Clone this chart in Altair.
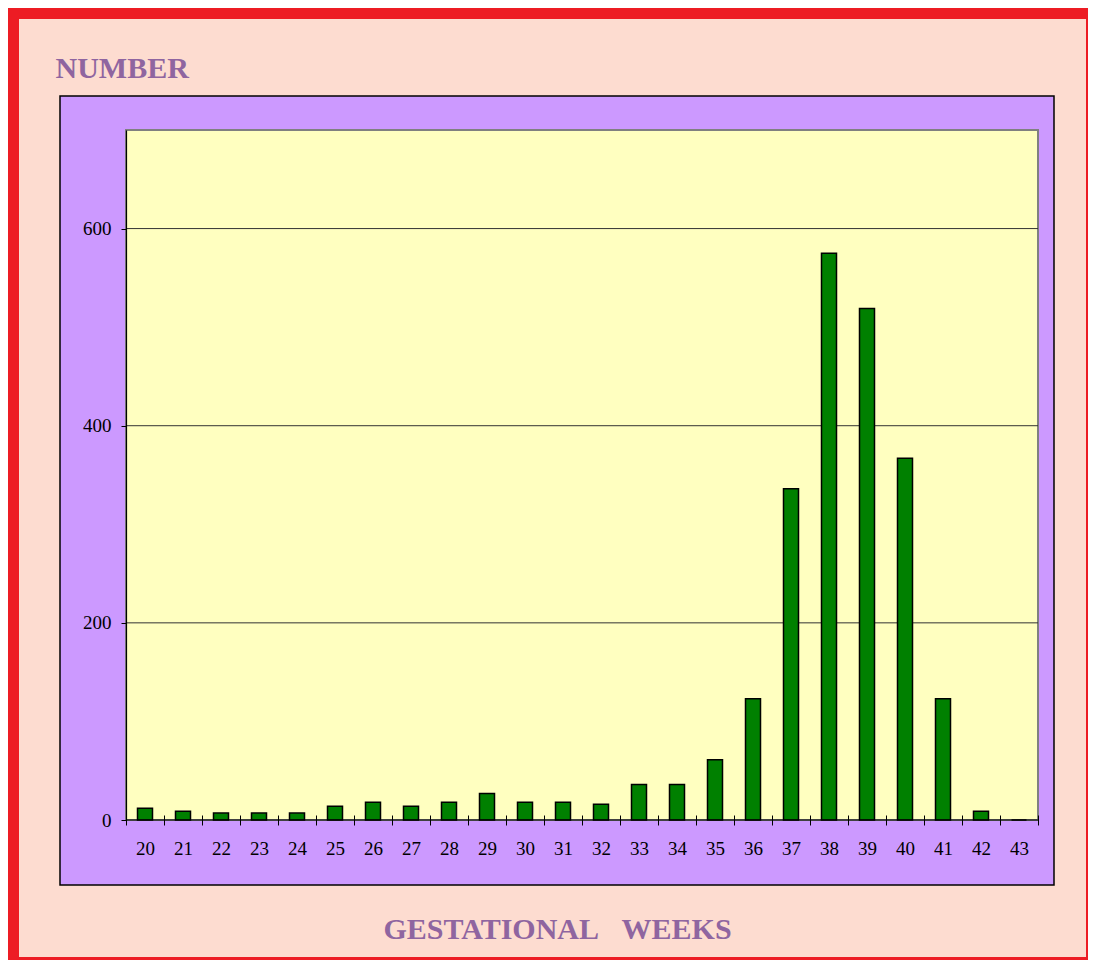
import altair as alt
import pandas as pd

weeks = [str(w) for w in range(20, 44)]
counts = [12, 9, 7, 7, 7, 14, 18, 14, 18, 27, 18, 18, 16, 36, 36, 61, 123, 336, 575, 519, 367, 123, 9, 0]
y_ticks = [0, 200, 400, 600]
y_title = "NUMBER"
x_title = "GESTATIONAL\u00a0\u00a0\u00a0WEEKS"

df = pd.DataFrame({"week": weeks, "count": counts})
grid_df = pd.DataFrame({"count": y_ticks[1:]})
one = pd.DataFrame({"a": [0]})

PW, PH = 912, 690
FONT = "Liberation Serif"
TITLE_COLOR = "#8F65A0"

y_axis = alt.Axis(
    title=y_title,
    values=y_ticks,
    grid=False,
    tickSize=5,
    labelPadding=10,
    titleAngle=0,
    titleX=-71,
    titleY=-53,
    titleAlign="left",
    titleBaseline="alphabetic",
    zindex=1,
)
y_scale = alt.Scale(domain=[0, 700], nice=False)

peach = alt.Chart(one).mark_rect(fill="#FDDCD0").encode(
    x=alt.value(-107), x2=alt.value(960), y=alt.value(-111), y2=alt.value(827)
)
purple = alt.Chart(one).mark_rect(fill="#CC99FF", stroke="black", strokeWidth=1.5).encode(
    x=alt.value(-66), x2=alt.value(928), y=alt.value(-34), y2=alt.value(755)
)
yellow = alt.Chart(one).mark_rect(fill="#FFFFC0", stroke="#808080", strokeWidth=2).encode(
    x=alt.value(0), x2=alt.value(PW), y=alt.value(0), y2=alt.value(PH)
)
grid = alt.Chart(grid_df).mark_rule(color="#333333", strokeWidth=1).encode(
    y=alt.Y("count:Q", scale=y_scale, axis=y_axis), x=alt.value(0), x2=alt.value(PW)
)
xline = alt.Chart(one).mark_rule(color="black", strokeWidth=1.2).encode(
    y=alt.value(PH), x=alt.value(0), x2=alt.value(PW)
)

bars = alt.Chart(df).mark_bar(size=15, color="#008000", stroke="black", strokeWidth=1.5).encode(
    x=alt.X(
        "week:O",
        sort=None,
        scale=alt.Scale(paddingInner=0, paddingOuter=0),
        axis=alt.Axis(
            title=x_title,
            labelAngle=0,
            tickBand="extent",
            tickSize=10,
            offset=-5,
            domain=False,
            labelPadding=14,
            titleX=431,
            titleY=123,
            titleBaseline="alphabetic",
            titleAlign="center",
            zindex=1,
        ),
    ),
    y=alt.Y("count:Q", scale=y_scale, axis=y_axis),
)

chart = (
    alt.layer(peach, purple, yellow, grid, bars, xline)
    .properties(
        width=PW,
        height=PH,
        background="#ED1C24",
        padding={"left": 118, "top": 122, "right": 50, "bottom": 140},
        autosize=alt.AutoSizeParams(type="none"),
    )
    .configure_view(stroke=None)
    .configure_axis(
        domainColor="black",
        domainWidth=1.2,
        tickColor="black",
        tickWidth=1,
        labelFont=FONT,
        labelFontSize=19,
        labelColor="black",
        titleFont=FONT,
        titleFontSize=30,
        titleFontWeight="bold",
        titleColor=TITLE_COLOR,
    )
)

chart.save("out.html", embed_options={"renderer": "svg", "actions": False})
